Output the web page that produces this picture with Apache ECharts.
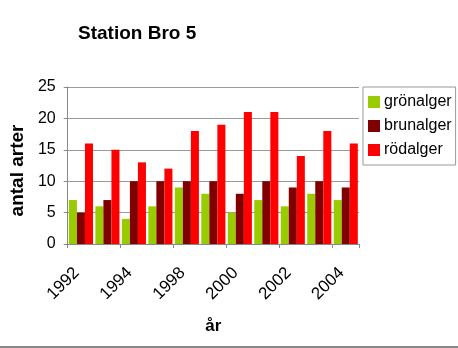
<!DOCTYPE html>
<html>
<head>
<meta charset="utf-8">
<script src="https://cdn.jsdelivr.net/npm/echarts@6/dist/echarts.min.js"></script>
<style>
html,body{margin:0;padding:0;background:#fff;}
#chart{width:458px;height:348px;}
</style>
</head>
<body>
<div id="chart"></div>
<script>
var categories = ['1992','1993','1994','1997','1998','1999','2000','2001','2002','2003','2004'];
var gronalger = [7,6,4,6,9,8,5,7,6,8,7];
var brunalger = [5,7,10,10,10,10,8,10,9,10,9];
var rodalger = [16,15,13,12,18,19,21,21,14,18,16];
var seriesNames = ['grönalger','brunalger','rödalger'];
var yTicks = {min:0, max:25, interval:5};

var FONT = '"Liberation Sans", Arial, sans-serif';
var chart = echarts.init(document.getElementById('chart'), null, {renderer:'canvas'});
chart.setOption({
  animation: false,
  backgroundColor: '#fff',
  textStyle: {fontFamily: FONT},
  title: {
    text: 'Station Bro 5',
    left: 73, top: 19,
    textStyle: {fontFamily: FONT, fontSize: 19, fontWeight: 'bold', color: '#000'}
  },
  legend: {
    orient: 'vertical',
    left: 363, top: 87,
    padding: [7, 4, 7, 5],
    itemWidth: 12, itemHeight: 12,
    itemGap: 8,
    borderColor: '#999', borderWidth: 1,
    icon: 'rect',
    textStyle: {fontFamily: FONT, fontSize: 16, color: '#000', lineHeight: 16, padding: [0,0,0,-1]},
    data: seriesNames
  },
  grid: {left: 66, right: 99, top: 87, bottom: 104, containLabel: false},
  xAxis: {
    type: 'category',
    data: categories,
    name: 'år',
    nameLocation: 'middle',
    nameGap: 74,
    nameTextStyle: {fontFamily: FONT, fontSize: 17, fontWeight: 'bold', color: '#000'},
    axisLine: {lineStyle: {color: '#888', width: 1}},
    axisTick: {show: true, alignWithLabel: false, length: 4, lineStyle: {color: '#888'}},
    axisLabel: {interval: 1, rotate: 45, fontSize: 17, color: '#000', margin: 22, padding: [0, 6, 0, 0], fontFamily: FONT}
  },
  yAxis: {
    type: 'value',
    min: yTicks.min, max: yTicks.max, interval: yTicks.interval,
    name: 'antal arter',
    nameLocation: 'middle',
    nameGap: 34,
    nameTextStyle: {fontFamily: FONT, fontSize: 19, fontWeight: 'bold', color: '#000', padding: [0, 10, 0, 0]},
    axisLine: {show: true, lineStyle: {color: '#888', width: 1}},
    axisTick: {show: true, length: 4, lineStyle: {color: '#888'}},
    axisLabel: {fontSize: 16, color: '#000', margin: 12, fontFamily: FONT},
    splitLine: {show: true, lineStyle: {color: '#9a9a9a', width: 1}}
  },
  series: [
    {name: seriesNames[0], type: 'bar', data: gronalger, barGap: '0%', barCategoryGap: '9%', itemStyle: {color: '#99cc00'}},
    {name: seriesNames[1], type: 'bar', data: brunalger, barGap: '0%', barCategoryGap: '9%', itemStyle: {color: '#800000'}},
    {name: seriesNames[2], type: 'bar', data: rodalger, barGap: '0%', barCategoryGap: '9%', itemStyle: {color: '#ff0000'}}
  ],
  graphic: [
    {type: 'rect', left: 0, bottom: 0, shape: {width: 458, height: 2}, style: {fill: '#888'}}
  ]
});
</script>
</body>
</html>
